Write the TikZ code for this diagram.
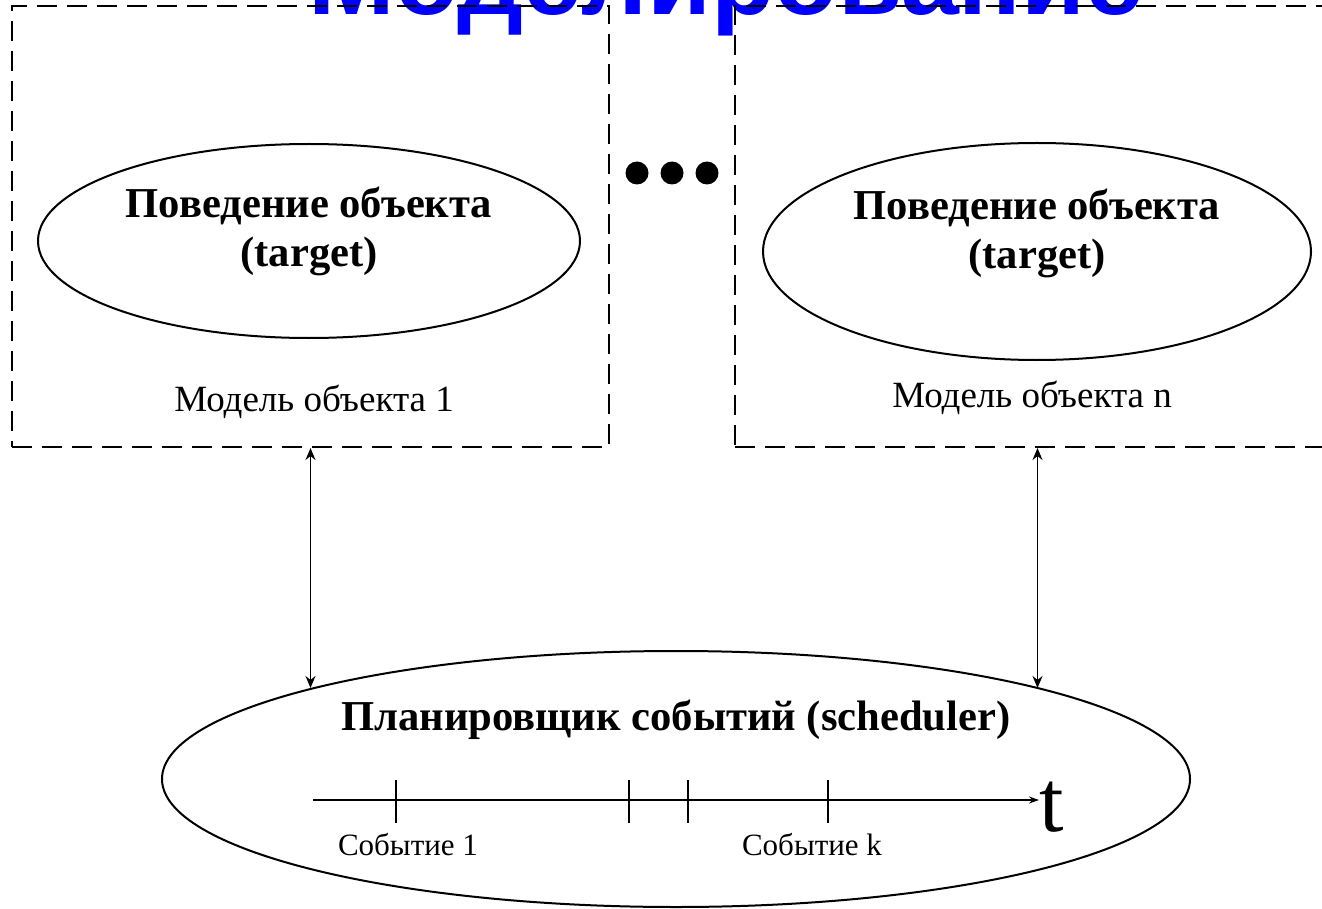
\documentclass[tikz,border=0pt]{standalone}
\usepackage{fontspec}
\setmainfont{Liberation Serif}
\newfontfamily\headfont{Liberation Sans}
\usepackage{tikz}
\usetikzlibrary{arrows.meta,positioning,shapes.geometric}

\begin{document}
\begin{tikzpicture}[
    x=0.5pt,
    y=-0.5pt,
    heading/.style={
        font=\headfont\bfseries\fontsize{52}{60}\selectfont,
        text=blue,
        anchor=base,
        inner sep=0pt
    },
    objbox/.style={
        draw,
        line width=1pt,
        dash pattern=on 10pt off 5pt,
        minimum height=220.5pt,
        inner sep=0pt
    },
    behav/.style={ellipse, draw, line width=1pt, inner sep=0pt},
    behavtext/.style={align=center, font=\bfseries\fontsize{21.3}{24.5}\selectfont},
    objlabel/.style={font=\fontsize{18.5}{21}\selectfont},
    dot/.style={circle, fill, inner sep=0pt, minimum size=11.5pt},
    link/.style={{Stealth[length=6pt,width=5pt]}-{Stealth[length=6pt,width=5pt]}, line width=0.75pt},
    timeaxis/.style={-{Stealth[length=5pt,width=3.5pt]}, line width=0.75pt},
    tick/.style={line width=0.75pt},
    evlabel/.style={font=\fontsize{15.5}{18}\selectfont}
]
\useasboundingbox (0,0) rectangle (1322,909);

\node[heading] (title) at (726,15) {Моделирование};

\node[objbox, minimum width=298.5pt] (box1) at (310.5,226.5) {};
\node[objbox, minimum width=302.5pt] (boxn) at (1037.5,226.5) {};

\node[behav, minimum width=271pt, minimum height=97pt] (beh1) at (309,241) {};
\node[behavtext] (beh1txt) at (309,231) {Поведение объекта\\(target)};
\node[behav, minimum width=274pt, minimum height=108.5pt] (behn) at (1037,251.5) {};
\node[behavtext] (behntxt) at (1037,233) {Поведение объекта\\(target)};

\node[objlabel] (mod1) at (314,402) {Модель объекта 1};
\node[objlabel] (modn) at (1032,398) {Модель объекта n};

\foreach \i/\x in {1/637,2/672,3/707}
    \node[dot] (dot\i) at (\x,173) {};

\node[behav, minimum width=514pt, minimum height=128pt] (sched) at (676,779) {};
\node[behavtext] (schedtxt) at (676,720) {Планировщик событий (scheduler)};

\draw[link] (box1.south) -- (box1.south |- sched.166);
\draw[link] (boxn.south) -- (boxn.south |- sched.14);

\coordinate (t0) at (313,800);
\node[font=\fontsize{44}{50}\selectfont, anchor=base west, inner sep=0pt] (tlab) at (1039,831) {t};
\draw[timeaxis] (t0) -- (t0 -| tlab.west);
\foreach \x in {396,629,688,828}
    \draw[tick] (\x,780) -- (\x,823);

\node[evlabel] (ev1) at (408,845) {Событие 1};
\node[evlabel] (evk) at (812,845) {Событие k};
\end{tikzpicture}
\end{document}
